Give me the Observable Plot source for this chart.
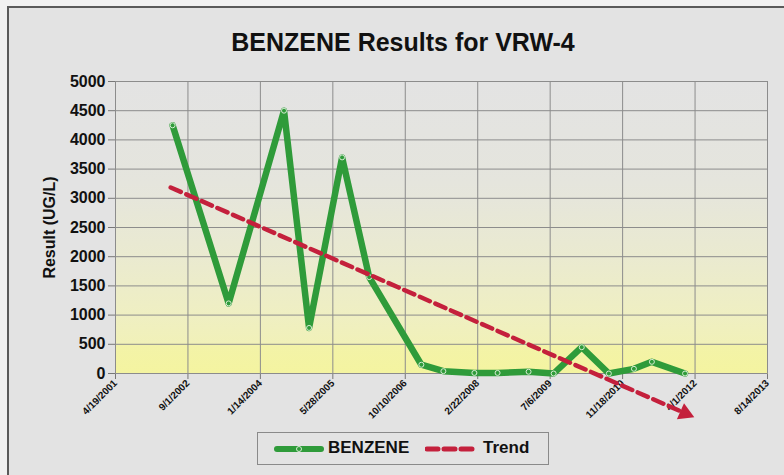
<!DOCTYPE html>
<html><head><meta charset="utf-8">
<script src="https://cdn.jsdelivr.net/npm/d3@7"></script>
<script src="https://cdn.jsdelivr.net/npm/@observablehq/plot@0.6"></script>
<style>
body{margin:0;background:#f1f1f1;font-family:"Liberation Sans",Arial,sans-serif;width:784px;height:475px;overflow:hidden;position:relative;}
#page{position:absolute;left:7px;top:6px;width:800px;height:480px;background:#e3e3e3;border-left:2px solid #5a5a5a;border-top:2px solid #5a5a5a;}
#title{position:absolute;left:11px;top:28px;width:784px;text-align:center;font-weight:bold;font-size:25px;color:#111;}
#chart{position:absolute;left:0;top:60px;}
#chart svg{overflow:visible;}
#chart g[aria-label^="x-axis"] text{font-size:10px;}
#chart g[aria-label^="y-axis"] text{font-size:16px;}
#chart g[aria-label^="x-axis"] line, #chart g[aria-label^="y-axis"] line, #chart g[aria-label$="tick"] path{stroke:#777;}
#legend{position:absolute;left:257px;top:432px;width:290px;height:31px;border:1.5px solid #8a8a8a;}
#legend .t{position:absolute;top:5px;font-weight:bold;font-size:17px;color:#111;}
#legend svg{position:absolute;top:10px;}
</style>
</head><body>
<div id="page"></div>
<div id="title">BENZENE Results for VRW-4</div>
<div id="chart"></div>
<div id="legend">
  <svg width="50" height="12" style="left:16px"><line x1="3" y1="6" x2="47" y2="6" stroke="#2f9b3a" stroke-width="6" stroke-linecap="round"/><circle cx="25" cy="6" r="2.5" fill="#2f9b3a" stroke="#d8ecd4"/></svg>
  <span class="t" style="left:70px">BENZENE</span>
  <svg width="52" height="12" style="left:167px"><line x1="2" y1="6" x2="50" y2="6" stroke="#c4203c" stroke-width="5" stroke-dasharray="11,6" stroke-linecap="round"/></svg>
  <span class="t" style="left:225px">Trend</span>
</div>
<script>
// ---- data ----
const sampleDates = ["2002-05-18","2003-06-09","2004-06-25","2004-12-15","2005-07-31","2006-02-03","2007-01-29","2007-06-30","2008-01-30","2008-07-08","2009-02-07","2009-07-30","2010-02-09","2010-08-15","2011-02-04","2011-06-08","2012-01-23"];
const benzeneValues = [4250,1200,4500,780,3700,1650,150,40,10,10,30,0,450,0,80,200,0];
const trendDates = ["2002-05-05","2012-01-23"];
const trendValues = [3185,-680];
const xTickDates = ["2001-04-19","2002-09-01","2004-01-14","2005-05-28","2006-10-10","2008-02-22","2009-07-06","2010-11-18","2012-04-01","2013-08-14"];
const yTicks = [0,500,1000,1500,2000,2500,3000,3500,4000,4500,5000];

const benz = sampleDates.map((d,i)=>({date:new Date(d), value:benzeneValues[i]}));
const trend = trendDates.map((d,i)=>({date:new Date(d), value:trendValues[i]}));
const trendEnd = [trend[trend.length-1]];
const xTicks = xTickDates.map(d=>new Date(d));
const fmt = d => `${d.getUTCMonth()+1}/${d.getUTCDate()}/${d.getUTCFullYear()}`;

const chart = Plot.plot({
  width:784, height:368,
  marginTop:21, marginBottom:55, marginLeft:115, marginRight:17,
  style:{background:"transparent", fontFamily:"'Liberation Sans', Arial, sans-serif", fontWeight:"bold", fontSize:"16px", color:"#111", overflow:"visible"},
  x:{type:"utc", domain:[xTicks[0], xTicks[xTicks.length-1]], ticks:xTicks, tickFormat:fmt, tickRotate:-45, tickSize:6, tickPadding:2, label:null},
  y:{domain:[0,5000], ticks:yTicks, tickFormat:d3.format("d"), tickSize:7, tickPadding:3, label:"Result (UG/L)", labelArrow:false, labelAnchor:"center", labelOffset:72},
  marks:[
    Plot.frame({fill:"url(#bggrad)", stroke:null}),
    Plot.ruleY(yTicks,{stroke:"#8c8c8c", strokeWidth:1}),
    Plot.ruleX(xTicks,{stroke:"#8c8c8c", strokeWidth:1}),
    Plot.line(benz,{x:"date", y:"value", stroke:"#2f9b3a", strokeWidth:6.5, strokeLinejoin:"round", strokeLinecap:"round"}),
    Plot.dot(benz,{x:"date", y:"value", r:2.5, fill:"#2f9b3a", stroke:"#d8ecd4", strokeWidth:1}),
    Plot.line(trend,{x:"date", y:"value", stroke:"#c4203c", strokeWidth:4.5, strokeDasharray:"11,6"}),
    Plot.dot(trendEnd,{x:"date", y:"value", symbol:"triangle", r:6.5, fill:"#c4203c", rotate:114})
  ]
});
document.getElementById("chart").appendChild(chart);
const svg = chart.tagName.toLowerCase()==="svg" ? chart : chart.querySelector("svg");
const defs = d3.select(svg).insert("defs", ":first-child");
const g = defs.append("linearGradient").attr("id","bggrad").attr("x1",0).attr("y1",0).attr("x2",0).attr("y2",1);
[[0,"#e3e3e3"],[0.35,"#e5e5dd"],[0.6,"#eaead0"],[0.8,"#efefc2"],[0.899,"#f1f1b8"],[0.9,"#f3f3a8"],[1,"#f4f4a0"]]
  .forEach(([o,c])=>g.append("stop").attr("offset",o).attr("stop-color",c));
</script>
</body></html>
